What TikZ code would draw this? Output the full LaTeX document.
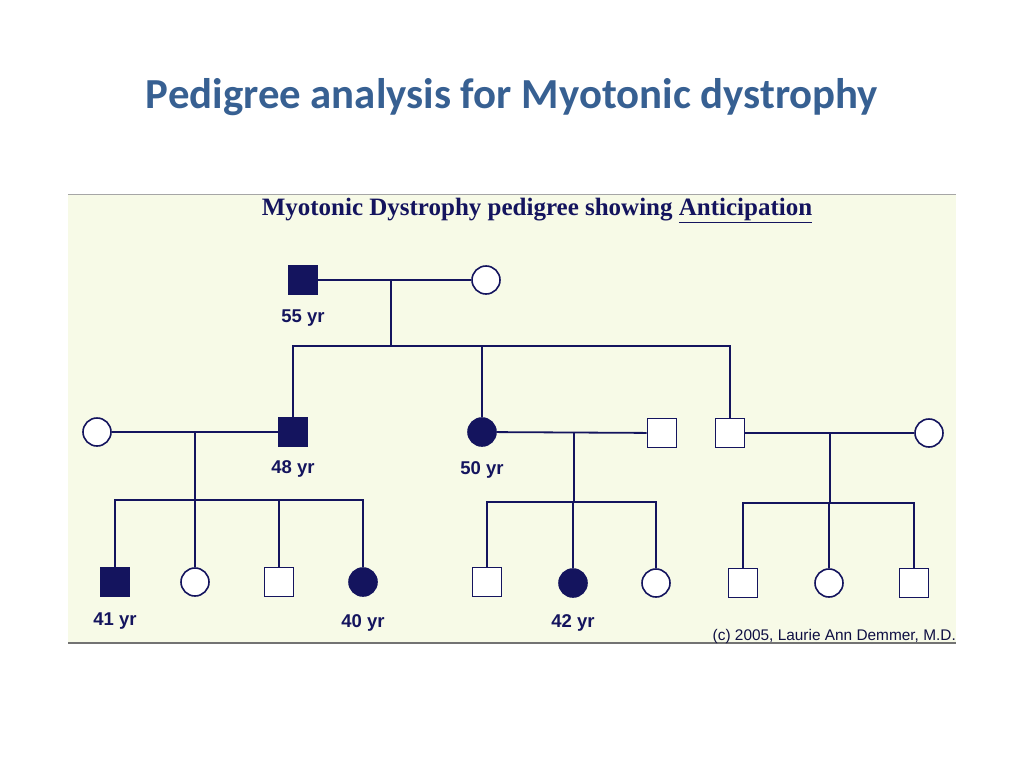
\documentclass[tikz,border=0pt]{standalone}
\usepackage{fontspec}
\setmainfont{Liberation Serif}
\newfontfamily\titlefont{Carlito}
\newfontfamily\labfont{Liberation Sans}
\definecolor{navy}{HTML}{14145E}
\definecolor{panel}{HTML}{F7FAE7}
\definecolor{titleblue}{HTML}{376092}
\begin{document}
\begin{tikzpicture}[x=1pt,y=-1pt,
  male/.style={draw=navy,line width=1.6pt,rectangle,minimum size=29pt,inner sep=0pt,fill=white},
  female/.style={draw=navy,line width=1.6pt,circle,minimum size=28pt,inner sep=0pt,fill=white},
  aff/.style={fill=navy},
  line/.style={draw=navy,line width=1.8pt},
  age/.style={font=\labfont\bfseries\fontsize{18.5}{18.5}\selectfont,text=navy,inner sep=0pt}]
\useasboundingbox (0,0) rectangle (1024,768);
\fill[white] (0,0) rectangle (1024,768);
\fill[panel] (68,194) rectangle (956,643);
\draw[gray!70,line width=1pt] (68,194) -- (956,194);
\draw[gray!90!black,line width=1.5pt] (68,643) -- (956,643);
\node[font=\titlefont\bfseries\fontsize{42.8}{42.8}\selectfont,text=titleblue] (title) at (512,97) {Pedigree analysis for Myotonic dystrophy};
\node[font=\bfseries\fontsize{25}{25}\selectfont,text=navy] (sub) at (537,210) {Myotonic Dystrophy pedigree showing \underline{Anticipation}};
\node[font=\labfont\fontsize{15.4}{15.4}\selectfont,text=navy!70!black,anchor=east,inner sep=0pt] (copy) at (956,637) {(c) 2005, Laurie Ann Demmer, M.D.};
% generation I
\node[male,aff] (g1m) at (303,280) {};
\node[female] (g1f) at (486,280) {};
\node[age] (l55) at (303,318) {55 yr};
% generation II
\node[female] (w1) at (97,432) {};
\node[male,aff] (s1) at (293,432) {};
\node[female,aff] (d1) at (482,432) {};
\node[male] (h1) at (662,433) {};
\node[male] (s2) at (730,433) {};
\node[female] (w2) at (929,433) {};
\node[age] (l48) at (293,469) {48 yr};
\node[age] (l50) at (482,470) {50 yr};
% generation III
\node[male,aff] (c1) at (115,582) {};
\node[female] (c2) at (195,582) {};
\node[male] (c3) at (279,582) {};
\node[female,aff] (c4) at (363,582) {};
\node[male] (c5) at (487,582) {};
\node[female,aff] (c6) at (573,583) {};
\node[female] (c7) at (656,583) {};
\node[male] (c8) at (743,583) {};
\node[female] (c9) at (829,583) {};
\node[male] (c10) at (914,583) {};
\node[age] (l41) at (115,621) {41 yr};
\node[age] (l40) at (363,623) {40 yr};
\node[age] (l42) at (573,623) {42 yr};
% couple I
\draw[line] (g1m) -- (g1f);
\coordinate (m1) at (391,280);
\coordinate (sib1) at (391,346);
\draw[line] (m1) -- (sib1);
\draw[line] (s1.north) |- (sib1) -| (s2.north);
\draw[line] (d1.north) -- (d1.north |- sib1);
% couples II
\draw[line] (w1) -- (s1);
\draw[line] (d1) -- (h1);
\draw[line] (s2) -- (w2);
\coordinate (m2) at (195,432);
\coordinate (m3) at (574,433);
\coordinate (m4) at (830,433);
\coordinate (sib2) at (195,500);
\coordinate (sib3) at (574,502);
\coordinate (sib4) at (830,503);
\draw[line] (m2) -- (sib2);
\draw[line] (m3) -- (sib3);
\draw[line] (m4) -- (sib4);
\draw[line] (c1.north) |- (sib2) -| (c4.north);
\draw[line] (c2.north) -- (c2.north |- sib2);
\draw[line] (c3.north) -- (c3.north |- sib2);
\draw[line] (c5.north) |- (sib3) -| (c7.north);
\draw[line] (c6.north) -- (c6.north |- sib3);
\draw[line] (c8.north) |- (sib4) -| (c10.north);
\draw[line] (c9.north) -- (c9.north |- sib4);
\end{tikzpicture}
\end{document}
